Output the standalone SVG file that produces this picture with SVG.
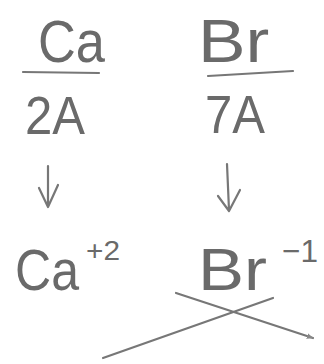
<svg xmlns="http://www.w3.org/2000/svg" width="324" height="364" viewBox="0 0 324 364">
<style>
.t{font-family:"Liberation Sans","DejaVu Sans",sans-serif;fill:#6a6a6a}
.ln{stroke:#777;stroke-width:2.2;fill:none;stroke-linecap:round;stroke-linejoin:round}
</style>
<defs>
<marker id="ah" viewBox="0 0 10 10" refX="9" refY="5" markerWidth="7" markerHeight="7" orient="auto" markerUnits="userSpaceOnUse">
<path d="M0,1 L10,5 L0,9 Z" fill="#888"/>
</marker>
</defs>
<rect width="324" height="364" fill="#fff"/>
<g id="ca">
<text class="t" x="38" y="62" font-size="60" textLength="67" lengthAdjust="spacingAndGlyphs">Ca</text>
<line class="ln" x1="23" y1="72" x2="99" y2="73"/>
</g>
<g id="br">
<text class="t" transform="translate(198,62) scale(1.15,1)" font-size="62">Br</text>
<line class="ln" x1="208" y1="76" x2="293" y2="71"/>
</g>
<g id="ca-group">
<text class="t" x="25" y="134" font-size="54" textLength="60" lengthAdjust="spacingAndGlyphs">2A</text>
</g>
<g id="br-group">
<text class="t" x="205" y="133" font-size="54" textLength="60" lengthAdjust="spacingAndGlyphs">7A</text>
</g>
<g id="ca-ion">
<text class="t" x="15" y="290" font-size="58" textLength="64" lengthAdjust="spacingAndGlyphs">Ca</text>
<text class="t" x="86" y="260" font-size="28" textLength="34" lengthAdjust="spacingAndGlyphs">+2</text>
</g>
<g id="br-ion">
<text class="t" transform="translate(198,290) scale(1.15,1)" font-size="60">Br</text>
<text class="t" x="282" y="262" font-size="32" textLength="36" lengthAdjust="spacingAndGlyphs">−1</text>
</g>
<g id="connectors">
<path class="ln" d="M48,166 L48,206 M39,188 L48,207 L58,185"/>
<path class="ln" d="M227,164 L229,210 M218,196 L229,211 L240,190"/>
<line class="ln" x1="103" y1="358" x2="273" y2="298" stroke-width="3"/>
<line class="ln" x1="176" y1="293" x2="313" y2="338" marker-end="url(#ah)"/>
</g>
</svg>
